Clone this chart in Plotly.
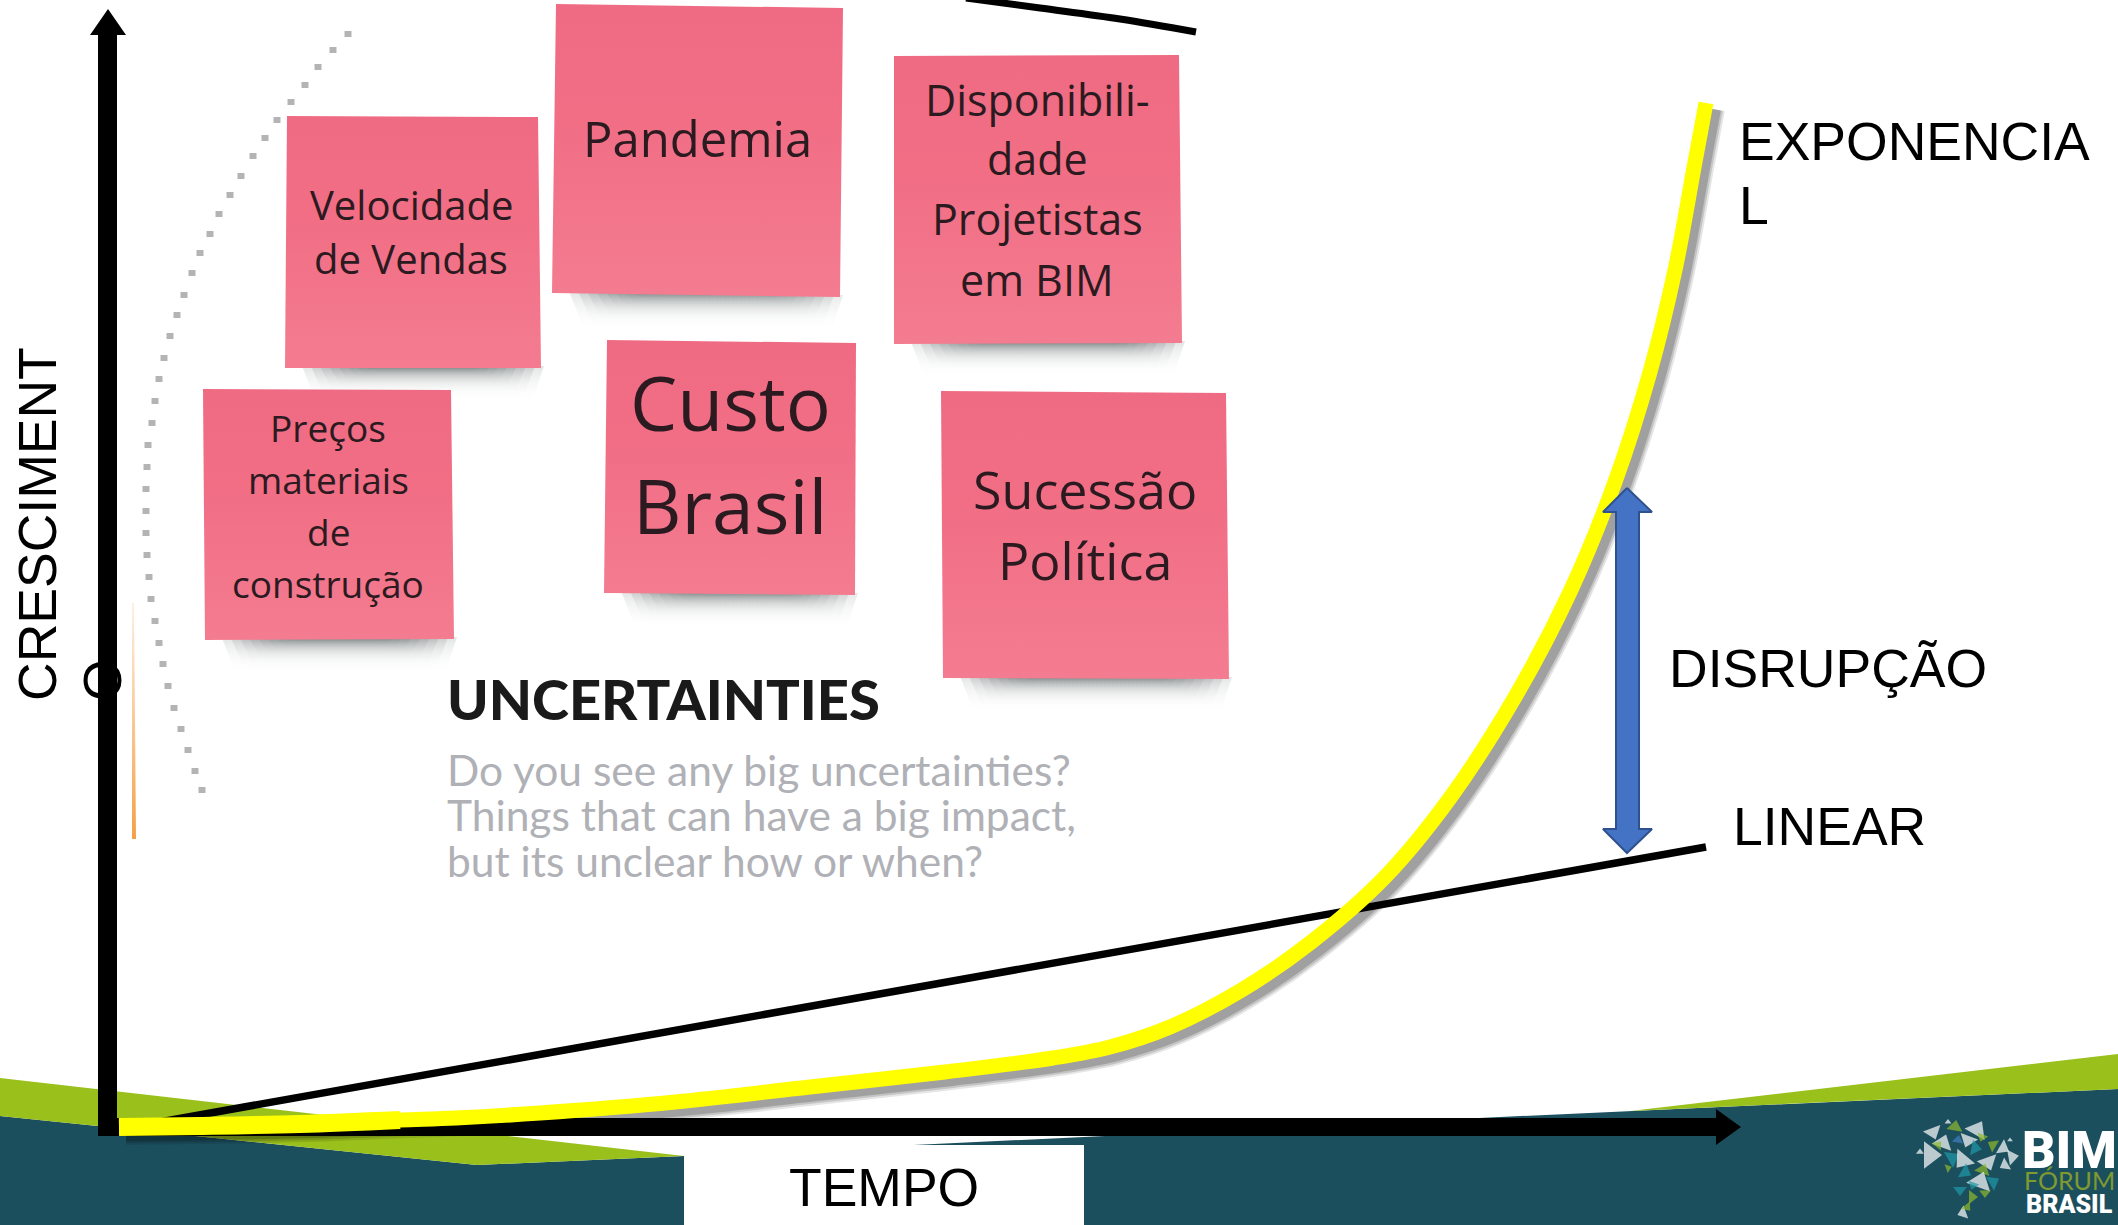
import plotly.graph_objects as go

W, H = 2118, 1225

# background bands
teal_x = [0, 477, 684, 1500, 2118, 2118, 0]
teal_y = [1116, 1165, 1156, 1117, 1089, 1225, 1225]
green_left_x = [0, 684, 477, 0]
green_left_y = [1078, 1156, 1165, 1116]
green_right_x = [1630, 2118, 2118]
green_right_y = [1111, 1054, 1089]
box_x = [684, 1084, 1084, 684]
box_y = [1145, 1145, 1225, 1225]

# curves
expo_x = [119, 200, 300, 400, 456, 540, 675, 810, 945, 1053, 1110, 1170, 1240, 1310, 1385, 1450, 1515, 1570, 1615, 1650, 1675, 1695, 1706]
expo_y = [1127, 1126, 1124, 1120, 1118, 1113, 1102, 1087, 1072, 1058, 1047, 1027, 991, 943, 877, 798, 697, 592, 482, 372, 270, 162, 103]
linear_x = [160, 1706]
linear_y = [1122, 847]
top_line_x = [966, 1040, 1120, 1196]
top_line_y = [-2, 8, 19, 32]

# axes arrows
y_arrow_x = [98, 98, 90, 108, 126, 117, 117]
y_arrow_y = [1136, 35, 35, 9, 35, 35, 1136]
x_arrow_x = [98, 1716, 1716, 1741, 1716, 1716, 98]
x_arrow_y = [1118, 1118, 1109, 1127, 1145, 1136, 1136]

# disruption arrow
blue_x = [1627, 1652, 1639, 1639, 1652, 1627, 1603, 1616, 1616, 1603, 1627]
blue_y = [488, 512, 512, 829, 829, 853, 829, 829, 512, 512, 488]

# dotted arc and orange line
arc_x = [348, 333, 318, 305, 291, 277, 265, 253, 241, 230, 219, 210, 200, 192, 184, 177, 170, 164, 159, 155, 152, 148, 147, 146, 146, 146, 147, 149, 151, 155, 159, 163, 168, 174, 181, 188, 195, 202]
arc_y = [34, 50, 67, 85, 102, 120, 138, 156, 176, 195, 214, 234, 253, 273, 295, 315, 336, 358, 379, 401, 423, 445, 467, 489, 511, 533, 555, 577, 599, 621, 643, 664, 686, 708, 729, 750, 771, 790]
orange_x = [132, 134, 136, 132]
orange_y = [603, 603, 839, 839]

# sticky notes, corners TL TR BR BL
notes_x = [
    [287, 538, 541, 285],
    [556, 843, 840, 552],
    [894, 1179, 1182, 894],
    [203, 451, 454, 205],
    [607, 856, 855, 604],
    [941, 1226, 1229, 943],
]
notes_y = [
    [116, 117, 368, 368],
    [4, 8, 297, 293],
    [56, 55, 343, 344],
    [389, 390, 639, 640],
    [340, 343, 595, 593],
    [391, 393, 679, 678],
]
note_text = ["Velocidade", "de Vendas", "Pandemia", "Disponibili-", "dade", "Projetistas", "em BIM",
             "Preços", "materiais", "de", "construção", "Custo", "Brasil", "Sucessão", "Política"]
note_text_x = [411, 411, 697, 1037, 1037, 1037, 1037, 328, 328, 328, 328, 730, 730, 1085, 1085]
note_text_y = [204, 258, 138, 99, 158, 218, 279, 427, 479, 531, 583, 402, 505, 488, 559]
note_text_size = [40, 40, 49, 43, 43, 43, 43, 37, 37, 37, 37, 75, 75, 52, 52]

# labels
label_text = ["EXPONENCIA", "L", "LINEAR", "DISRUPÇÃO", "TEMPO"]
label_x = [1737, 1737, 1731, 1667, 884]
label_y = [141, 205, 826, 668, 1187]
body_text = ["Do you see any big uncertainties?", "Things that can have a big impact,", "but its unclear how or when?"]
body_y = [769, 814, 860]

# logo shards
shard_x = [1933, 1943, 1955, 1977, 1968, 1930, 1952, 1963, 1938, 1982, 1975, 1993, 2003, 2012, 2005, 1988, 1983, 1965, 1980, 1973, 1993, 1972, 1985, 1963, 1967, 1958, 1948, 1920, 2010, 1948, 1960]
shard_y = [1132, 1143, 1127, 1130, 1140, 1155, 1158, 1160, 1145, 1137, 1148, 1145, 1148, 1157, 1165, 1162, 1170, 1172, 1182, 1185, 1182, 1197, 1193, 1213, 1207, 1140, 1168, 1152, 1140, 1122, 1190]
shard_size = [16, 18, 14, 20, 16, 24, 16, 20, 10, 10, 14, 12, 14, 14, 12, 18, 14, 14, 22, 10, 14, 12, 10, 12, 10, 10, 8, 7, 5, 6, 12]
shard_angle = [160, 20, 10, 30, 200, 90, 60, 220, 40, 200, 100, 300, 120, 80, 240, 160, 20, 120, 20, 200, 60, 90, 180, 250, 140, 10, 70, 0, 0, 0, 180]
shard_color = ["#FFFFFF", "#FFFFFF", "#8FB92A", "#FFFFFF", "#FFFFFF", "#FFFFFF", "#1E9AA8", "#FFFFFF", "#8FB92A", "#8FB92A", "#1E9AA8", "#8FB92A", "#FFFFFF", "#FFFFFF", "#FFFFFF", "#FFFFFF", "#8FB92A", "#1E9AA8", "#FFFFFF", "#1E9AA8", "#1E9AA8", "#8FB92A", "#8FB92A", "#FFFFFF", "#8FB92A", "#3D7FC0", "#8FB92A", "#FFFFFF", "#FFFFFF", "#FFFFFF", "#1E9AA8"]

TEAL = "#1C4F5E"
GREEN = "#9AC01C"

fig = go.Figure()


def poly(x, y, color, **kw):
    fig.add_trace(go.Scatter(x=x, y=y, mode="lines", fill="toself", fillcolor=color,
                             line=dict(width=0, color=color), hoverinfo="skip", **kw))


def curve(x, y, color, width, shape="linear"):
    fig.add_trace(go.Scatter(x=x, y=y, mode="lines", line=dict(color=color, width=width, shape=shape),
                             hoverinfo="skip"))


# bands
poly(teal_x, teal_y, TEAL)
poly(green_left_x, green_left_y, GREEN)
poly(green_right_x, green_right_y, GREEN)
poly(box_x, box_y, "white")

# dotted arc
fig.add_trace(go.Scatter(x=arc_x, y=arc_y, mode="markers", hoverinfo="skip",
                         marker=dict(symbol="line-ew", size=5, color="#B4B4B6",
                                     line=dict(width=6, color="#B4B4B6"))))
fig.add_trace(go.Scatter(x=orange_x, y=orange_y, mode="lines", fill="toself", line=dict(width=0), hoverinfo="skip",
                         fillgradient=dict(type="vertical", colorscale=[[0, "rgba(245,160,70,1)"], [1, "rgba(245,160,70,0.15)"]])))

# notes with their shadows, layered so the edge goes soft
for nx, ny in zip(notes_x, notes_y):
    for inset, depth in [(5, 34), (14, 30), (23, 26), (32, 22), (41, 18), (50, 15), (59, 12), (68, 9)]:
        sx = [nx[3] + inset + 12, nx[2] - inset + 8, nx[2] - inset - 4, nx[3] + inset + 26]
        sy = [ny[3] - 2, ny[2] - 2, ny[2] + depth, ny[3] + depth]
        fig.add_trace(go.Scatter(x=sx, y=sy, mode="lines", fill="toself", line=dict(width=0), hoverinfo="skip",
                                 fillgradient=dict(type="vertical", colorscale=[[0, "rgba(255,255,255,0)"], [1, "rgba(70,80,80,0.16)"]])))
    fig.add_trace(go.Scatter(x=nx, y=ny, mode="lines", fill="toself", line=dict(width=0), hoverinfo="skip",
                             fillgradient=dict(type="vertical", colorscale=[[0, "#F47C90"], [0.6, "#F16E85"], [1, "#EF6B83"]])))

# curve shadow, axes, curves
for w, a in [(24, 0.10), (20, 0.14), (16, 0.18)]:
    curve([v + 7 for v in expo_x], [v + 6 for v in expo_y], f"rgba(0,0,0,{a})", w, "spline")
poly(x_arrow_x, x_arrow_y, "black")
poly(y_arrow_x, y_arrow_y, "black")
curve(linear_x, linear_y, "black", 7.5)
curve(top_line_x, top_line_y, "black", 7, "spline")
curve(expo_x, expo_y, "#FFFF00", 15, "spline")
curve(expo_x[:4], expo_y[:4], "#FFFF00", 18, "spline")

fig.add_trace(go.Scatter(x=blue_x, y=blue_y, mode="lines", fill="toself", fillcolor="#4472C4",
                         line=dict(color="#2F528F", width=2), hoverinfo="skip"))

# logo map
fig.add_trace(go.Scatter(x=shard_x, y=shard_y, mode="markers", hoverinfo="skip",
                         marker=dict(symbol="triangle-up", size=shard_size, angle=shard_angle,
                                     color=shard_color, line=dict(width=0))))

# text
def text(x, y, s, size, color="black", family="Liberation Sans", xanchor="center", angle=0, weight=None):
    fig.add_annotation(x=x, y=y, text=s, showarrow=False, xanchor=xanchor, yanchor="middle",
                       textangle=angle, font=dict(family=family, size=size, color=color, weight=weight))


for s, x, y, size in zip(note_text, note_text_x, note_text_y, note_text_size):
    text(x, y, s, size, color="#2B1A20", family="Open Sans")
for s, x, y in zip(label_text, label_x, label_y):
    text(x, y, s, 53.5, xanchor="left" if s != "TEMPO" else "center")
text(37, 524, "CRESCIMENT", 53.5, angle=-90)
text(102, 680, "O", 53.5, angle=-90)
text(445, 698, "UNCERTAINTIES", 56, color="#1A1A1A", family="Lato", xanchor="left", weight=900)
for s, y in zip(body_text, body_y):
    text(445, y, s, 42.5, color="#B0B1B6", family="Lato", xanchor="left")
text(2069, 1150, "BIM", 52, color="white", family="Roboto", weight=900)
text(2069, 1180, "FÓRUM", 25, color="#7F9A2E", family="Lato")
text(2069, 1204, "BRASIL", 25, color="white", family="Roboto", weight=900)

fig.update_layout(width=W, height=H, margin=dict(l=0, r=0, t=0, b=0), showlegend=False,
                  paper_bgcolor="white", plot_bgcolor="white",
                  xaxis=dict(range=[0, W], visible=False),
                  yaxis=dict(range=[H, 0], visible=False))

fig.write_html("out.html", config=dict(displayModeBar=False), post_script="document.body.style.margin='0';")
